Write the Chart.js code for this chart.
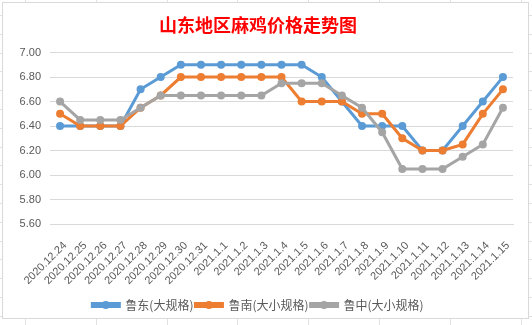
<!DOCTYPE html>
<html>
<head>
<meta charset="utf-8">
<script src="https://cdn.jsdelivr.net/npm/chart.js@4/dist/chart.umd.min.js"></script>
<style>
  html, body {
    margin: 0;
    width: 532px;
    height: 325px;
    overflow: hidden;
    background-color: #fff;
    background-image:
      repeating-linear-gradient(to right, transparent 0, transparent 25px, #e1e1e1 25px, #e1e1e1 26px, transparent 26px, transparent 70.8px),
      repeating-linear-gradient(to bottom, transparent 0, transparent 15px, #e1e1e1 15px, #e1e1e1 16px, transparent 16px, transparent 18.8px);
  }
  #box {
    position: absolute;
    left: 2px;
    top: 2px;
    width: 525px;
    height: 315px;
    border: 1px solid #d9d9d9;
    background: #fff;
  }
</style>
</head>
<body>
<div id="box"><canvas id="chart" width="525" height="315"></canvas></div>
<script>
const dates = [
  '2020.12.24', '2020.12.25', '2020.12.26', '2020.12.27', '2020.12.28', '2020.12.29',
  '2020.12.30', '2020.12.31', '2021.1.1', '2021.1.2', '2021.1.3', '2021.1.4',
  '2021.1.5', '2021.1.6', '2021.1.7', '2021.1.8', '2021.1.9', '2021.1.10',
  '2021.1.11', '2021.1.12', '2021.1.13', '2021.1.14', '2021.1.15'
];
const ludong = [6.40, 6.40, 6.40, 6.40, 6.70, 6.80, 6.90, 6.90, 6.90, 6.90, 6.90, 6.90,
  6.90, 6.80, 6.60, 6.40, 6.40, 6.40, 6.20, 6.20, 6.40, 6.60, 6.80];
const lunan = [6.50, 6.40, 6.40, 6.40, 6.55, 6.65, 6.80, 6.80, 6.80, 6.80, 6.80, 6.80,
  6.60, 6.60, 6.60, 6.50, 6.50, 6.30, 6.20, 6.20, 6.25, 6.50, 6.70];
const luzhong = [6.60, 6.45, 6.45, 6.45, 6.55, 6.65, 6.65, 6.65, 6.65, 6.65, 6.65, 6.75,
  6.75, 6.75, 6.65, 6.55, 6.35, 6.05, 6.05, 6.05, 6.15, 6.25, 6.55];
const seriesNames = ['鲁东(大规格)', '鲁南(大小规格)', '鲁中(大小规格)'];
const colors = ['#5B9BD5', '#ED7D31', '#A5A5A5'];

const font = "'Liberation Sans', 'Noto Sans CJK SC', sans-serif";

function series(i, data, order) {
  return {
    label: seriesNames[i],
    data: data,
    borderColor: colors[i],
    backgroundColor: colors[i],
    borderWidth: 3,
    pointRadius: 4,
    pointBorderWidth: 0,
    pointBackgroundColor: colors[i],
    tension: 0,
    order: order
  };
}

// draws the round marker in the middle of each legend line
const legendDots = {
  id: 'legendDots',
  afterDraw(chart) {
    const legend = chart.legend;
    if (!legend || !legend.legendHitBoxes) return;
    const ctx = chart.ctx;
    const bw = legend.options.labels.boxWidth;
    legend.legendHitBoxes.forEach((hb, k) => {
      const item = legend.legendItems[k];
      ctx.save();
      ctx.fillStyle = item.fillStyle;
      ctx.beginPath();
      ctx.arc(hb.left + bw / 2, hb.top + hb.height / 2, 4, 0, Math.PI * 2);
      ctx.fill();
      ctx.restore();
    });
  }
};

new Chart(document.getElementById('chart'), {
  type: 'line',
  data: {
    labels: dates,
    datasets: [
      series(0, ludong, 2),
      series(1, lunan, 1),
      series(2, luzhong, 0)
    ]
  },
  options: {
    responsive: false,
    animation: false,
    layout: { padding: { left: 0, right: 15, top: 0, bottom: -3 } },
    plugins: {
      title: {
        display: true,
        text: '山东地区麻鸡价格走势图',
        color: '#ff0000',
        font: { family: "'Noto Sans CJK SC', sans-serif", size: 18, weight: 'bold' },
        padding: { top: 11, bottom: 17 }
      },
      legend: {
        position: 'bottom',
        labels: {
          boxWidth: 27,
          boxHeight: 3,
          padding: 2,
          color: '#595959',
          font: { family: "'Noto Sans CJK SC', sans-serif", size: 12 },
          sort: (a, b) => a.datasetIndex - b.datasetIndex
        }
      },
      tooltip: { enabled: false }
    },
    scales: {
      x: {
        offset: true,
        grid: { display: false },
        border: { display: true, color: '#d9d9d9' },
        ticks: {
          autoSkip: false,
          maxRotation: 45,
          minRotation: 45,
          padding: 7,
          labelOffset: 5,
          color: '#595959',
          font: { family: font, size: 11 }
        },
        afterFit(scale) { scale.height = 73; }
      },
      y: {
        min: 5.6,
        max: 7.0,
        grid: { color: '#d9d9d9', drawTicks: false },
        border: { display: false },
        ticks: {
          stepSize: 0.2,
          padding: 9,
          color: '#595959',
          font: { family: font, size: 11 },
          callback: v => v.toFixed(2)
        },
        afterFit(scale) { scale.width = 47; }
      }
    }
  },
  plugins: [legendDots]
});
</script>
</body>
</html>
